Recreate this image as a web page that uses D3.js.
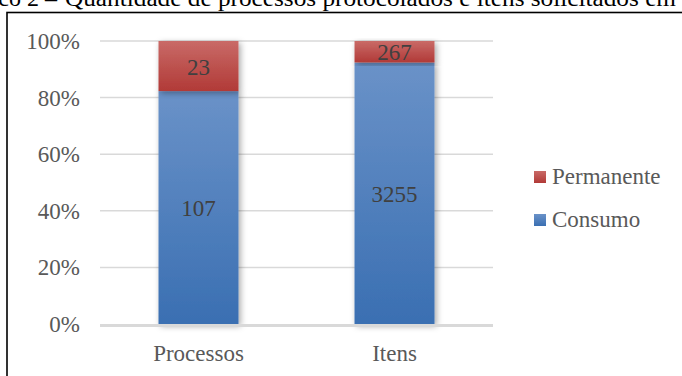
<!DOCTYPE html>
<html>
<head>
<meta charset="utf-8">
<script src="https://cdn.jsdelivr.net/npm/d3@7"></script>
<style>
  body { margin: 0; background: #fff; }
  svg { display: block; font-family: "Liberation Serif", "Times New Roman", serif; }
</style>
</head>
<body>
<div id="chart"></div>
<script>
const width = 682
const height = 376

// values
const categories = ["Processos", "Itens"]
const consumo = [107, 3255]
const permanente = [23, 267]
const seriesNames = ["Consumo", "Permanente"]
const yTicks = [0, 0.2, 0.4, 0.6, 0.8, 1]
const titleHead = "Gráfico 2 –"
const titleRest = "Quantidade de processos protocolados e itens solicitados em"

const rows = categories.map((c, i) => ({ cat: c, Consumo: consumo[i], Permanente: permanente[i] }))

const svg = d3.select("#chart").append("svg")
  .attr("width", width)
  .attr("height", height)

const defs = svg.append("defs")
function grad(id, top, bottom) {
  const g = defs.append("linearGradient").attr("id", id)
    .attr("x1", 0).attr("y1", 0).attr("x2", 0).attr("y2", 1)
  g.append("stop").attr("offset", "0%").attr("stop-color", top)
  g.append("stop").attr("offset", "100%").attr("stop-color", bottom)
}
grad("g-Consumo", "#6a92c8", "#3a6fb2")
grad("g-Permanente", "#c96a67", "#b13a37")

defs.append("filter").attr("id", "shadow")
  .attr("x", "-30%").attr("y", "-10%").attr("width", "160%").attr("height", "125%")
  .append("feDropShadow")
  .attr("dx", 2).attr("dy", 2).attr("stdDeviation", 3)
  .attr("flood-color", "#000").attr("flood-opacity", 0.35)

// title (cut at the top of the picture, like in the page it came from)
const title = svg.append("g").attr("font-size", 24).attr("fill", "#000")
title.append("text")
  .attr("x", 57).attr("y", 6)
  .attr("text-anchor", "end")
  .text(titleHead)
title.append("text")
  .attr("x", 65).attr("y", 6)
  .attr("textLength", 611)
  .attr("lengthAdjust", "spacingAndGlyphs")
  .text(titleRest)

// frame
svg.append("rect")
  .attr("x", 7).attr("y", 12.5)
  .attr("width", 720).attr("height", 420)
  .attr("fill", "none").attr("stroke", "#000").attr("stroke-width", 1.6)

const x = d3.scaleBand().domain(categories).range([100, 493])
  .paddingInner(0.592).paddingOuter(0.2985)
const y = d3.scaleLinear().domain([0, 1]).range([324, 41])

// grid
svg.append("g").selectAll("line")
  .data(yTicks.filter(d => d > 0))
  .join("line")
  .attr("x1", 100).attr("x2", 493)
  .attr("y1", d => y(d)).attr("y2", d => y(d))
  .attr("stroke", "#d9d9d9").attr("stroke-width", 1.5)

// y labels
svg.append("g").selectAll("text")
  .data(yTicks)
  .join("text")
  .attr("x", 80)
  .attr("y", d => y(d) + 8)
  .attr("text-anchor", "end")
  .attr("font-size", 23)
  .attr("fill", "#595959")
  .text(d3.format(".0%"))

const stack = d3.stack().keys(seriesNames).offset(d3.stackOffsetExpand)
const series = stack(rows)

const bars = svg.append("g")
series.forEach(s => {
  bars.append("g")
    .selectAll("rect")
    .data(s)
    .join("rect")
    .attr("x", d => x(d.data.cat))
    .attr("width", x.bandwidth())
    .attr("y", d => y(d[1]))
    .attr("height", d => y(d[0]) - y(d[1]))
    .attr("fill", `url(#g-${s.key})`)
    .attr("filter", "url(#shadow)")
})

// axis line
svg.append("line")
  .attr("x1", 100).attr("x2", 493)
  .attr("y1", y(0) + 1.5).attr("y2", y(0) + 1.5)
  .attr("stroke", "#d9d9d9").attr("stroke-width", 3)

// data labels
series.forEach(s => {
  svg.append("g").selectAll("text")
    .data(s)
    .join("text")
    .attr("x", d => x(d.data.cat) + x.bandwidth() / 2)
    .attr("y", d => (y(d[0]) + y(d[1])) / 2 + 8.5)
    .attr("text-anchor", "middle")
    .attr("font-size", 23)
    .attr("fill", "#404040")
    .text(d => d.data[s.key])
})

// category labels
svg.append("g").selectAll("text")
  .data(categories)
  .join("text")
  .attr("x", d => x(d) + x.bandwidth() / 2)
  .attr("y", 361)
  .attr("text-anchor", "middle")
  .attr("font-size", 23)
  .attr("fill", "#595959")
  .text(d => d)

// legend
const legend = svg.append("g")
  .selectAll("g")
  .data(seriesNames.slice().reverse())
  .join("g")
  .attr("transform", (d, i) => `translate(534,${171 + i * 43})`)
legend.append("rect")
  .attr("width", 12).attr("height", 12)
  .attr("fill", d => `url(#g-${d})`)
legend.append("text")
  .attr("x", 18).attr("y", 13)
  .attr("font-size", 23)
  .attr("fill", "#595959")
  .text(d => d)
</script>
</body>
</html>
